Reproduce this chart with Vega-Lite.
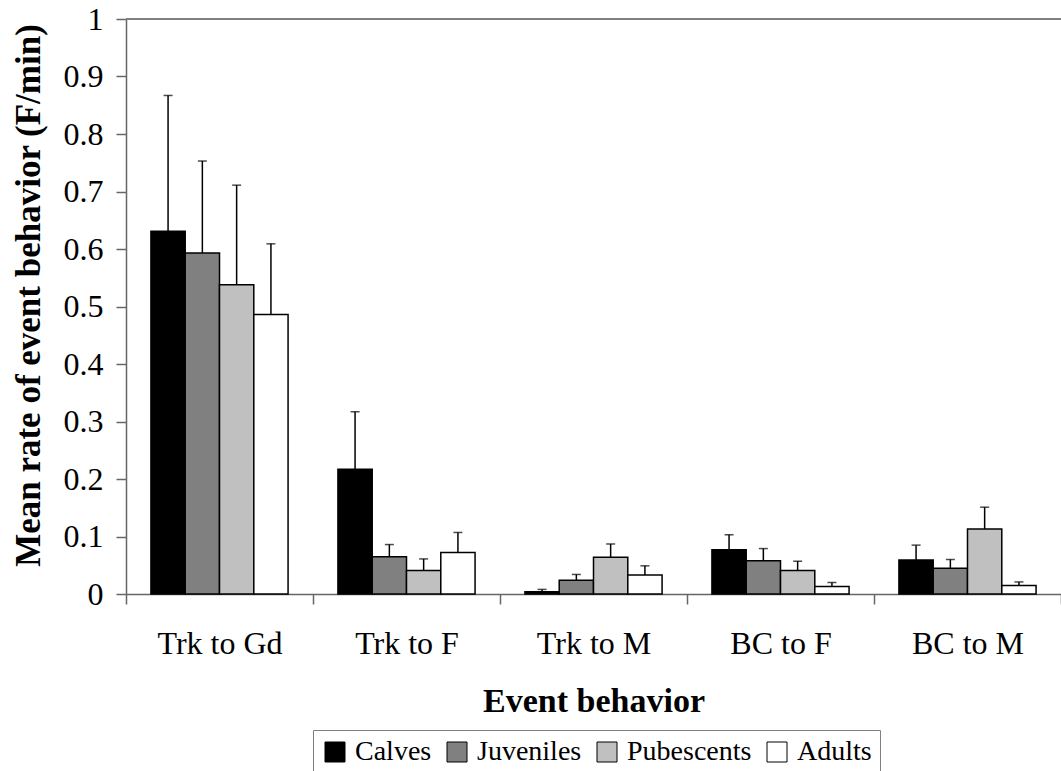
{
  "$schema": "https://vega.github.io/schema/vega-lite/v6.json",
  "width": 935,
  "height": 575,
  "autosize": {"type": "none"},
  "padding": {"left": 126, "top": 19, "right": 0, "bottom": 177},
  "background": "white",
  "config": {
    "view": {"stroke": null},
    "font": "Liberation Serif",
    "axis": {"labelFont": "Liberation Serif", "titleFont": "Liberation Serif"},
    "legend": {"labelFont": "Liberation Serif", "titleFont": "Liberation Serif"}
  },
  "data": {
    "values": [
      {"behavior": "Trk to Gd", "group": "Calves", "mean": 0.631, "upper": 0.867},
      {"behavior": "Trk to Gd", "group": "Juveniles", "mean": 0.593, "upper": 0.753},
      {"behavior": "Trk to Gd", "group": "Pubescents", "mean": 0.538, "upper": 0.711},
      {"behavior": "Trk to Gd", "group": "Adults", "mean": 0.486, "upper": 0.609},
      {"behavior": "Trk to F", "group": "Calves", "mean": 0.217, "upper": 0.317},
      {"behavior": "Trk to F", "group": "Juveniles", "mean": 0.065, "upper": 0.086},
      {"behavior": "Trk to F", "group": "Pubescents", "mean": 0.041, "upper": 0.061},
      {"behavior": "Trk to F", "group": "Adults", "mean": 0.072, "upper": 0.107},
      {"behavior": "Trk to M", "group": "Calves", "mean": 0.004, "upper": 0.008},
      {"behavior": "Trk to M", "group": "Juveniles", "mean": 0.024, "upper": 0.034},
      {"behavior": "Trk to M", "group": "Pubescents", "mean": 0.064, "upper": 0.087},
      {"behavior": "Trk to M", "group": "Adults", "mean": 0.033, "upper": 0.049},
      {"behavior": "BC to F", "group": "Calves", "mean": 0.077, "upper": 0.103},
      {"behavior": "BC to F", "group": "Juveniles", "mean": 0.058, "upper": 0.079},
      {"behavior": "BC to F", "group": "Pubescents", "mean": 0.041, "upper": 0.057},
      {"behavior": "BC to F", "group": "Adults", "mean": 0.013, "upper": 0.020},
      {"behavior": "BC to M", "group": "Calves", "mean": 0.059, "upper": 0.085},
      {"behavior": "BC to M", "group": "Juveniles", "mean": 0.045, "upper": 0.060},
      {"behavior": "BC to M", "group": "Pubescents", "mean": 0.113, "upper": 0.151},
      {"behavior": "BC to M", "group": "Adults", "mean": 0.015, "upper": 0.021}
    ]
  },
  "layer": [
    {
      "mark": {"type": "rule", "color": "#808080", "strokeWidth": 1.5},
      "encoding": {"y": {"datum": 1, "type": "quantitative"}}
    },
    {
      "mark": {"type": "bar", "stroke": "black", "strokeWidth": 1.5},
      "encoding": {
        "x": {
          "field": "behavior", "type": "nominal",
          "sort": ["Trk to Gd", "Trk to F", "Trk to M", "BC to F", "BC to M"],
          "scale": {"paddingInner": 0, "paddingOuter": 0},
          "axis": {
            "title": "Event behavior", "titleFontSize": 34, "titleFontWeight": "bold",
            "titlePadding": 25, "titleColor": "black", "titleFont": "Liberation Serif",
            "labelFontSize": 32, "labelAngle": 0, "labelPadding": 24, "labelColor": "black", "labelFont": "Liberation Serif",
            "tickBand": "extent", "tickSize": 10, "tickColor": "#666", "tickWidth": 1.5,
            "domainColor": "#666", "domainWidth": 1.5
          }
        },
        "xOffset": {
          "field": "group", "type": "nominal",
          "sort": ["Calves", "Juveniles", "Pubescents", "Adults"],
          "scale": {"paddingInner": 0, "paddingOuter": 0.727}
        },
        "y": {
          "field": "mean", "type": "quantitative",
          "title": "Mean rate of event behavior (F/min)",
          "scale": {"domain": [0, 1], "nice": false},
          "axis": {
            "values": [0, 0.1, 0.2, 0.3, 0.4, 0.5, 0.6, 0.7, 0.8, 0.9, 1],
            "format": ".1~f", "grid": false,
            "labelFontSize": 32, "labelPadding": 13, "labelColor": "black", "labelFont": "Liberation Serif",
            "tickSize": 10, "tickColor": "#666", "tickWidth": 1.5,
            "domainColor": "#666", "domainWidth": 1.5,
            "titleFontSize": 35, "titleFontWeight": "bold", "titlePadding": 17, "titleColor": "black", "titleFont": "Liberation Serif",
            "titleY": 276
          }
        },
        "fill": {
          "field": "group", "type": "nominal",
          "sort": ["Calves", "Juveniles", "Pubescents", "Adults"],
          "scale": {"domain": ["Calves", "Juveniles", "Pubescents", "Adults"], "range": ["#000000", "#808080", "#c0c0c0", "#ffffff"]},
          "legend": {
            "orient": "none", "legendX": 187, "legendY": 711, "direction": "horizontal",
            "title": null, "symbolType": "square", "symbolSize": 400,
            "symbolStrokeColor": "black", "symbolStrokeWidth": 1,
            "labelFontSize": 28, "labelFont": "Liberation Serif", "labelColor": "black",
            "strokeColor": "#808080", "padding": 8, "columnPadding": 11,
            "symbolOffset": 0, "labelOffset": 6
          }
        }
      }
    },
    {
      "mark": {"type": "rule", "color": "black", "strokeWidth": 1.5},
      "encoding": {
        "x": {"field": "behavior", "type": "nominal", "sort": ["Trk to Gd", "Trk to F", "Trk to M", "BC to F", "BC to M"]},
        "xOffset": {"field": "group", "type": "nominal", "sort": ["Calves", "Juveniles", "Pubescents", "Adults"]},
        "y": {"field": "mean", "type": "quantitative", "title": "Mean rate of event behavior (F/min)"},
        "y2": {"field": "upper"}
      }
    },
    {
      "mark": {"type": "tick", "color": "black", "size": 9, "thickness": 1.5},
      "encoding": {
        "x": {"field": "behavior", "type": "nominal", "sort": ["Trk to Gd", "Trk to F", "Trk to M", "BC to F", "BC to M"]},
        "xOffset": {"field": "group", "type": "nominal", "sort": ["Calves", "Juveniles", "Pubescents", "Adults"]},
        "y": {"field": "upper", "type": "quantitative", "title": "Mean rate of event behavior (F/min)"}
      }
    }
  ]
}
